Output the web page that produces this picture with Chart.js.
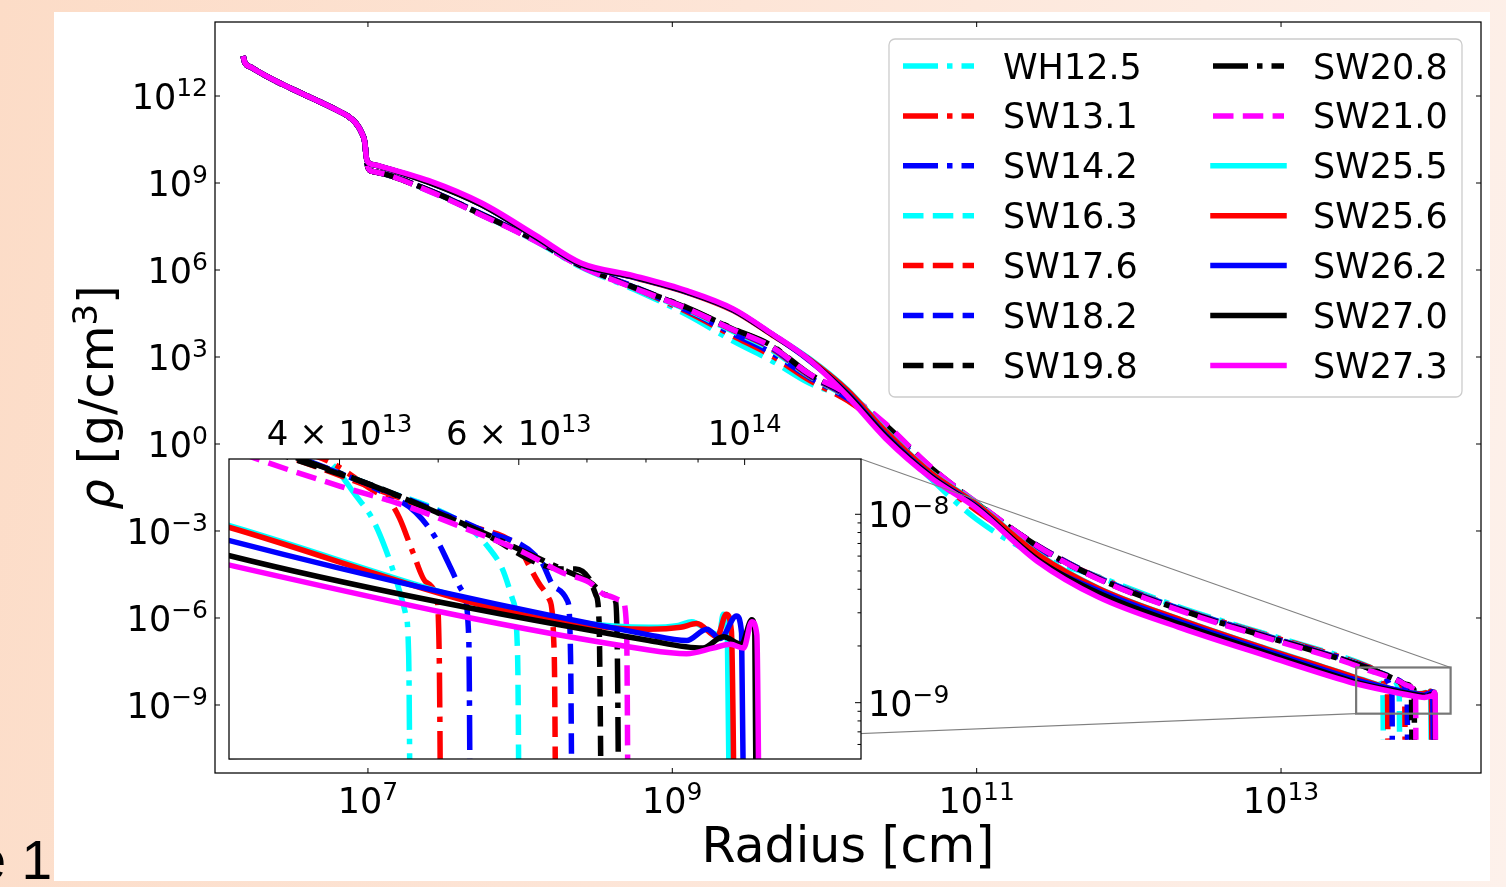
<!DOCTYPE html>
<html lang="en">
<head>
<meta charset="UTF-8">
<title>Density profiles</title>
<script src="https://cdn.jsdelivr.net/npm/chart.js"></script>
<style>
  html, body { margin: 0; padding: 0; }
  body {
    width: 1506px;
    height: 887px;
    overflow: hidden;
    position: relative;
    background: linear-gradient(100deg, #fcdcc7 0%, #fde5d7 45%, #fdf1eb 100%);
    font-family: 'DejaVu Sans', sans-serif;
  }
  .panel {
    position: absolute;
    left: 54px;
    top: 12px;
    width: 1436px;
    height: 869px;
    background: #fff;
  }
  .fig-no {
    position: absolute;
    left: -250px;
    width: 302px;
    top: 833px;
    text-align: right;
    font: 55px/55px 'Liberation Sans', Arial, sans-serif;
    color: #000;
    white-space: nowrap;
  }
  #mainChart { position: absolute; left: 0; top: 0; }
  #insetChart { position: absolute; left: 219px; top: 400px; }
</style>
</head>
<body>
<div class="panel"></div>
<div class="fig-no">Figure 1</div>
<canvas id="mainChart" width="1506" height="887"></canvas>
<canvas id="insetChart" width="740" height="370"></canvas>

<script>
// all values are log10: radius in cm, density in g/cm^3
const coreLogR = [6.18, 6.19, 6.23, 6.82, 6.87, 6.92, 6.96, 6.98, 6.99, 7.01, 7.05];
const coreSolid = [13.38, 13.17, 13.00, 11.45, 11.30, 11.07, 10.72, 10.38, 9.86, 9.68, 9.62];
const coreBroken = [13.38, 13.17, 13.00, 11.45, 11.30, 11.07, 10.72, 10.38, 9.80, 9.45, 9.38];
const bodyLogR = [7.40, 7.75, 8.10, 8.40, 8.75, 9.10, 9.40, 9.65, 9.90, 10.15, 10.40, 10.70, 11.00, 11.40, 11.80, 12.35, 12.90, 13.45];

const bodyWH125 = [8.74, 7.90, 7.00, 6.10, 5.33, 4.45, 3.55, 2.88, 2.10, 1.55, 0.40, -1.20, -2.60, -3.85, -4.58, -5.66, -6.55, -7.42];
const bodySW131 = [8.75, 7.91, 7.02, 6.14, 5.38, 4.55, 3.72, 3.05, 2.20, 1.50, 0.50, -1.05, -2.30, -3.62, -4.60, -5.70, -6.58, -7.45];
const bodySW142 = [8.76, 7.92, 7.03, 6.16, 5.40, 4.60, 3.80, 3.15, 2.30, 1.58, 0.58, -0.95, -2.18, -3.58, -4.62, -5.72, -6.62, -7.48];
const bodySW163 = [8.73, 7.89, 7.02, 6.13, 5.38, 4.62, 3.88, 3.25, 2.34, 1.62, 0.60, -0.90, -2.12, -3.52, -4.60, -5.70, -6.60, -7.49];
const bodySW176 = [8.75, 7.90, 7.03, 6.15, 5.41, 4.65, 3.92, 3.30, 2.36, 1.64, 0.62, -0.86, -2.08, -3.50, -4.62, -5.72, -6.62, -7.50];
const bodySW182 = [8.76, 7.92, 7.04, 6.16, 5.42, 4.67, 3.94, 3.33, 2.38, 1.66, 0.64, -0.84, -2.06, -3.50, -4.62, -5.72, -6.62, -7.50];
const bodySW198 = [8.74, 7.90, 7.02, 6.14, 5.39, 4.68, 3.96, 3.38, 2.40, 1.70, 0.67, -0.81, -2.03, -3.52, -4.65, -5.75, -6.65, -7.51];
const bodySW208 = [8.75, 7.91, 7.03, 6.15, 5.40, 4.70, 3.97, 3.40, 2.42, 1.70, 0.66, -0.82, -2.04, -3.52, -4.64, -5.74, -6.64, -7.51];
const bodySW210 = [8.72, 7.88, 7.00, 6.12, 5.37, 4.66, 3.94, 3.36, 2.42, 1.72, 0.70, -0.80, -2.02, -3.52, -4.66, -5.77, -6.68, -7.56];
const bodySW255 = [9.05, 8.26, 7.16, 6.21, 5.75, 5.24, 4.62, 3.80, 2.95, 1.88, 0.48, -0.98, -2.05, -3.78, -4.97, -6.07, -7.05, -7.98];
const bodySW256 = [9.04, 8.25, 7.15, 6.20, 5.74, 5.22, 4.60, 3.78, 2.92, 1.85, 0.45, -1.00, -2.08, -3.80, -4.98, -6.08, -7.06, -7.99];
const bodySW262 = [9.03, 8.24, 7.14, 6.19, 5.75, 5.23, 4.62, 3.80, 2.88, 1.75, 0.32, -1.10, -2.15, -4.02, -5.06, -6.16, -7.13, -8.07];
const bodySW270 = [9.02, 8.24, 7.15, 6.20, 5.76, 5.24, 4.63, 3.80, 2.90, 1.72, 0.28, -1.12, -2.18, -3.98, -5.14, -6.24, -7.20, -8.15];
const bodySW273 = [9.08, 8.30, 7.20, 6.24, 5.80, 5.28, 4.66, 3.82, 2.90, 1.65, 0.20, -1.17, -2.22, -4.05, -5.28, -6.36, -7.30, -8.21];

// outer edge, [log r, log rho]
const edgeWH125 = [[13.56, -7.64], [13.592, -7.72], [13.618, -7.90], [13.634, -8.02], [13.647, -8.18], [13.660, -8.39], [13.667, -8.53], [13.670, -8.75], [13.672, -10.2]];
const edgeSW131 = [[13.56, -7.66], [13.592, -7.72], [13.634, -7.87], [13.651, -7.93], [13.661, -8.02], [13.674, -8.20], [13.687, -8.36], [13.697, -8.43], [13.700, -8.75], [13.702, -10.2]];
const edgeSW142 = [[13.568, -7.71], [13.651, -7.90], [13.677, -7.99], [13.697, -8.13], [13.710, -8.27], [13.723, -8.41], [13.729, -8.65], [13.731, -10.2]];
const edgeSW163 = [[13.56, -7.70], [13.64, -7.86], [13.729, -8.07], [13.749, -8.18], [13.762, -8.29], [13.772, -8.45], [13.777, -8.75], [13.779, -10.2]];
const edgeSW176 = [[13.56, -7.71], [13.64, -7.87], [13.73, -8.06], [13.78, -8.19], [13.788, -8.27], [13.801, -8.39], [13.808, -8.45], [13.813, -8.75], [13.815, -10.2]];
const edgeSW182 = [[13.56, -7.70], [13.64, -7.86], [13.74, -8.08], [13.80, -8.25], [13.814, -8.39], [13.826, -8.46], [13.829, -8.75], [13.831, -10.2]];
const edgeSW198 = [[13.559, -7.71], [13.641, -7.86], [13.739, -8.09], [13.821, -8.29], [13.834, -8.29], [13.847, -8.34], [13.854, -8.43], [13.857, -8.57], [13.860, -10.2]];
const edgeSW208 = [[13.56, -7.70], [13.64, -7.86], [13.74, -8.09], [13.82, -8.29], [13.848, -8.36], [13.865, -8.43], [13.873, -8.46], [13.875, -8.75], [13.877, -10.2]];
const edgeSW210 = [[13.523, -7.71], [13.602, -7.85], [13.664, -7.95], [13.723, -8.07], [13.782, -8.20], [13.821, -8.31], [13.847, -8.36], [13.864, -8.43], [13.880, -8.46], [13.884, -8.60], [13.886, -10.2]];
const edgeSW255 = [[13.494, -8.06], [13.906, -8.60], [13.935, -8.59], [13.948, -8.57], [13.965, -8.62], [13.975, -8.64], [13.979, -8.53], [13.983, -8.62], [13.986, -10.2]];
const edgeSW256 = [[13.494, -8.07], [13.906, -8.61], [13.937, -8.60], [13.953, -8.58], [13.973, -8.65], [13.982, -8.53], [13.987, -8.62], [13.991, -10.2]];
const edgeSW262 = [[13.494, -8.14], [13.906, -8.64], [13.943, -8.67], [13.963, -8.61], [13.976, -8.66], [13.992, -8.54], [13.997, -8.63], [14.000, -10.2]];
const edgeSW270 = [[13.494, -8.22], [13.906, -8.67], [13.959, -8.71], [13.979, -8.65], [13.997, -8.69], [14.007, -8.56], [14.010, -8.63], [14.012, -10.2]];
const edgeSW273 = [[13.494, -8.27], [13.906, -8.72], [13.943, -8.74], [13.969, -8.71], [13.986, -8.69], [13.999, -8.71], [14.007, -8.57], [14.012, -8.64], [14.015, -10.2]];

const names = ['WH12.5', 'SW13.1', 'SW14.2', 'SW16.3', 'SW17.6', 'SW18.2', 'SW19.8',
               'SW20.8', 'SW21.0', 'SW25.5', 'SW25.6', 'SW26.2', 'SW27.0', 'SW27.3'];
const colors = ['#00ffff', '#ff0000', '#0000ff', '#00ffff', '#ff0000', '#0000ff', '#000000',
                '#000000', '#ff00ff', '#00ffff', '#ff0000', '#0000ff', '#000000', '#ff00ff'];
const styles = ['dashdot', 'dashdot', 'dashdot', 'dashed', 'dashed', 'dashed', 'dashed',
                'dashdot', 'dashed', 'solid', 'solid', 'solid', 'solid', 'solid'];
const bodies = [bodyWH125, bodySW131, bodySW142, bodySW163, bodySW176, bodySW182, bodySW198,
                bodySW208, bodySW210, bodySW255, bodySW256, bodySW262, bodySW270, bodySW273];
const edges = [edgeWH125, edgeSW131, edgeSW142, edgeSW163, edgeSW176, edgeSW182, edgeSW198,
               edgeSW208, edgeSW210, edgeSW255, edgeSW256, edgeSW262, edgeSW270, edgeSW273];

// axis limits (log10) and ticks
const mainXRange = [5.995, 14.314];
const mainYRange = [-11.345, 14.552];
const insetXRange = [13.4935, 14.1143];
const insetYRange = [-9.299, -7.7065];
const mainXTicks = [7, 9, 11, 13];
const mainYTicks = [12, 9, 6, 3, 0, -3, -6, -9];
const insetXMajor = [4e13, 6e13, 1e14];
const insetXLabels = [['4 × 10', '13'], ['6 × 10', '13'], ['10', '14']];
const insetXMinor = [5e13, 7e13, 8e13, 9e13];
const insetYMajor = [1e-8, 1e-9];
const insetYLabels = [['10', '−8'], ['10', '−9']];
const insetYMinor = [2e-9, 3e-9, 4e-9, 5e-9, 6e-9, 7e-9, 8e-9, 9e-9, 6e-10, 7e-10, 8e-10, 9e-10];

const DASH = { solid: [], dashed: [20.5, 9.3], dashdot: [35, 9, 5.5, 9] };
const LW = 5.5;
const FONT = '"DejaVu Sans", sans-serif';

function profile(i) {
  const core = styles[i] === 'solid' ? coreSolid : coreBroken;
  const pts = coreLogR.map((r, k) => ({ x: 10 ** r, y: 10 ** core[k] }));
  bodyLogR.forEach((r, k) => pts.push({ x: 10 ** r, y: 10 ** bodies[i][k] }));
  edges[i].forEach(([r, d]) => pts.push({ x: 10 ** r, y: 10 ** d }));
  return pts;
}

function makeDatasets() {
  return names.map((n, i) => ({
    label: n,
    data: profile(i),
    borderColor: colors[i],
    borderWidth: LW,
    borderDash: DASH[styles[i]],
    borderJoinStyle: 'round',
    pointRadius: 0,
    cubicInterpolationMode: 'monotone',
    fill: false,
    clip: 0,
    order: names.length - 1 - i
  }));
}

function logAxis(range) {
  return { type: 'logarithmic', display: false, bounds: 'data', min: 10 ** range[0], max: 10 ** range[1] };
}

function expText(e) {
  return e < 0 ? '−' + (-e) : String(e);
}

// "10" with a raised exponent, like matplotlib mathtext
function supLabel(ctx, base, exp, x, y, align, size) {
  const big = size + 'px ' + FONT;
  const small = Math.round(size * 0.7) + 'px ' + FONT;
  ctx.font = big;
  const wb = ctx.measureText(base).width;
  ctx.font = small;
  const we = ctx.measureText(exp).width;
  let x0 = x;
  if (align === 'right') x0 = x - wb - we;
  if (align === 'center') x0 = x - (wb + we) / 2;
  ctx.textAlign = 'left';
  ctx.textBaseline = 'alphabetic';
  ctx.fillStyle = '#000';
  ctx.font = big;
  ctx.fillText(base, x0, y);
  ctx.font = small;
  ctx.fillText(exp, x0 + wb, y - size * 0.37);
}

function seg(ctx, x1, y1, x2, y2) {
  ctx.beginPath();
  ctx.moveTo(x1, y1);
  ctx.lineTo(x2, y2);
  ctx.stroke();
}

const insetCanvas = document.getElementById('insetChart');

const insetDeco = {
  id: 'insetDeco',
  beforeDraw(chart) {
    const { ctx, chartArea: a } = chart;
    ctx.save();
    ctx.fillStyle = '#fff';
    ctx.fillRect(a.left, a.top, a.right - a.left, a.bottom - a.top);
    ctx.restore();
  },
  afterDraw(chart) {
    const { ctx, chartArea: a, scales: { x, y } } = chart;
    ctx.save();
    ctx.strokeStyle = '#000';
    ctx.lineWidth = 1.25;
    ctx.strokeRect(a.left, a.top, a.right - a.left, a.bottom - a.top);
    ctx.lineWidth = 1;
    insetXMajor.forEach((v, k) => {
      const px = x.getPixelForValue(v);
      seg(ctx, px, a.top, px, a.top + 6);
      supLabel(ctx, insetXLabels[k][0], insetXLabels[k][1], px, a.top - 14, 'center', 34);
    });
    insetXMinor.forEach(v => {
      const px = x.getPixelForValue(v);
      seg(ctx, px, a.top, px, a.top + 3.5);
    });
    insetYMajor.forEach((v, k) => {
      const py = y.getPixelForValue(v);
      seg(ctx, a.right, py, a.right - 6, py);
      supLabel(ctx, insetYLabels[k][0], insetYLabels[k][1], a.right + 7, py + 13, 'left', 35);
    });
    insetYMinor.forEach(v => {
      const py = y.getPixelForValue(v);
      seg(ctx, a.right, py, a.right - 3.5, py);
    });
    ctx.restore();
  }
};

const insetChart = new Chart(insetCanvas, {
  type: 'line',
  data: { datasets: makeDatasets() },
  options: {
    responsive: false,
    animation: false,
    events: [],
    layout: { padding: { left: 10, top: 59, right: 98, bottom: 11 } },
    scales: { x: logAxis(insetXRange), y: logAxis(insetYRange) },
    plugins: { legend: { display: false }, tooltip: { enabled: false } }
  },
  plugins: [insetDeco]
});

function drawLegend(ctx, a) {
  const left = a.right - 592, top = a.top + 17, w = 573, h = 358;
  ctx.save();
  ctx.beginPath();
  ctx.roundRect(left, top, w, h, 6);
  ctx.fillStyle = 'rgba(255,255,255,0.85)';
  ctx.fill();
  ctx.strokeStyle = '#cccccc';
  ctx.lineWidth = 1.3;
  ctx.stroke();
  names.forEach((n, i) => {
    const col = Math.floor(i / 7), row = i % 7;
    const x0 = left + 14 + col * 310;
    const cy = top + 27 + row * 49.9;
    ctx.strokeStyle = colors[i];
    ctx.lineWidth = LW;
    ctx.setLineDash(DASH[styles[i]]);
    ctx.lineCap = styles[i] === 'solid' ? 'square' : 'butt';
    seg(ctx, x0, cy, x0 + 71, cy);
    ctx.setLineDash([]);
    ctx.fillStyle = '#000';
    ctx.font = '35px ' + FONT;
    ctx.textAlign = 'left';
    ctx.textBaseline = 'alphabetic';
    ctx.fillText(n, x0 + 100, cy + 12.5);
  });
  ctx.restore();
}

const mainDeco = {
  id: 'mainDeco',
  afterDatasetsDraw(chart) {
    const { ctx, scales: { x, y } } = chart;
    const ia = insetChart.chartArea;
    const ox = insetCanvas.offsetLeft, oy = insetCanvas.offsetTop;
    const rl = x.getPixelForValue(10 ** insetXRange[0]);
    const rr = x.getPixelForValue(10 ** insetXRange[1]);
    const rt = y.getPixelForValue(10 ** insetYRange[1]);
    const rb = y.getPixelForValue(10 ** insetYRange[0]);
    ctx.save();
    ctx.strokeStyle = '#808080';
    ctx.lineWidth = 1.1;
    seg(ctx, ox + ia.right, oy + ia.top, rr, rt);
    seg(ctx, ox + ia.left, oy + ia.bottom, rl, rb);
    ctx.strokeStyle = '#777777';
    ctx.lineWidth = 2.2;
    ctx.strokeRect(rl, rt, rr - rl, rb - rt);
    ctx.restore();
  },
  afterDraw(chart) {
    const { ctx, chartArea: a, scales: { x, y } } = chart;
    ctx.save();
    ctx.strokeStyle = '#000';
    ctx.lineWidth = 1.25;
    ctx.strokeRect(a.left, a.top, a.right - a.left, a.bottom - a.top);
    ctx.lineWidth = 1;
    mainXTicks.forEach(e => {
      const px = x.getPixelForValue(10 ** e);
      seg(ctx, px, a.bottom, px, a.bottom - 5);
      seg(ctx, px, a.top, px, a.top + 5);
      supLabel(ctx, '10', expText(e), px, a.bottom + 40, 'center', 35);
    });
    mainYTicks.forEach(e => {
      const py = y.getPixelForValue(10 ** e);
      seg(ctx, a.left, py, a.left + 5, py);
      seg(ctx, a.right, py, a.right - 5, py);
      supLabel(ctx, '10', expText(e), a.left - 7, py + 13, 'right', 35);
    });

    // axis titles
    ctx.fillStyle = '#000';
    ctx.font = '49px ' + FONT;
    ctx.textAlign = 'center';
    ctx.textBaseline = 'alphabetic';
    ctx.fillText('Radius [cm]', (a.left + a.right) / 2, a.bottom + 89);

    const parts = [
      ['ρ', 'italic 48px ' + FONT, 0],
      [' [g/cm', '48px ' + FONT, 0],
      ['3', '34px ' + FONT, 16],
      [']', '48px ' + FONT, 0]
    ];
    let total = 0;
    parts.forEach(p => { ctx.font = p[1]; total += ctx.measureText(p[0]).width; });
    ctx.translate(113, (a.top + a.bottom) / 2);
    ctx.rotate(-Math.PI / 2);
    ctx.textAlign = 'left';
    let cx = -total / 2;
    parts.forEach(p => {
      ctx.font = p[1];
      ctx.fillText(p[0], cx, -p[2]);
      cx += ctx.measureText(p[0]).width;
    });
    ctx.restore();

    drawLegend(ctx, a);
  }
};

new Chart(document.getElementById('mainChart'), {
  type: 'line',
  data: { datasets: makeDatasets() },
  options: {
    responsive: false,
    animation: false,
    events: [],
    layout: { padding: { left: 215, top: 22, right: 25, bottom: 114 } },
    scales: { x: logAxis(mainXRange), y: logAxis(mainYRange) },
    plugins: { legend: { display: false }, tooltip: { enabled: false } }
  },
  plugins: [mainDeco]
});
</script>
</body>
</html>
